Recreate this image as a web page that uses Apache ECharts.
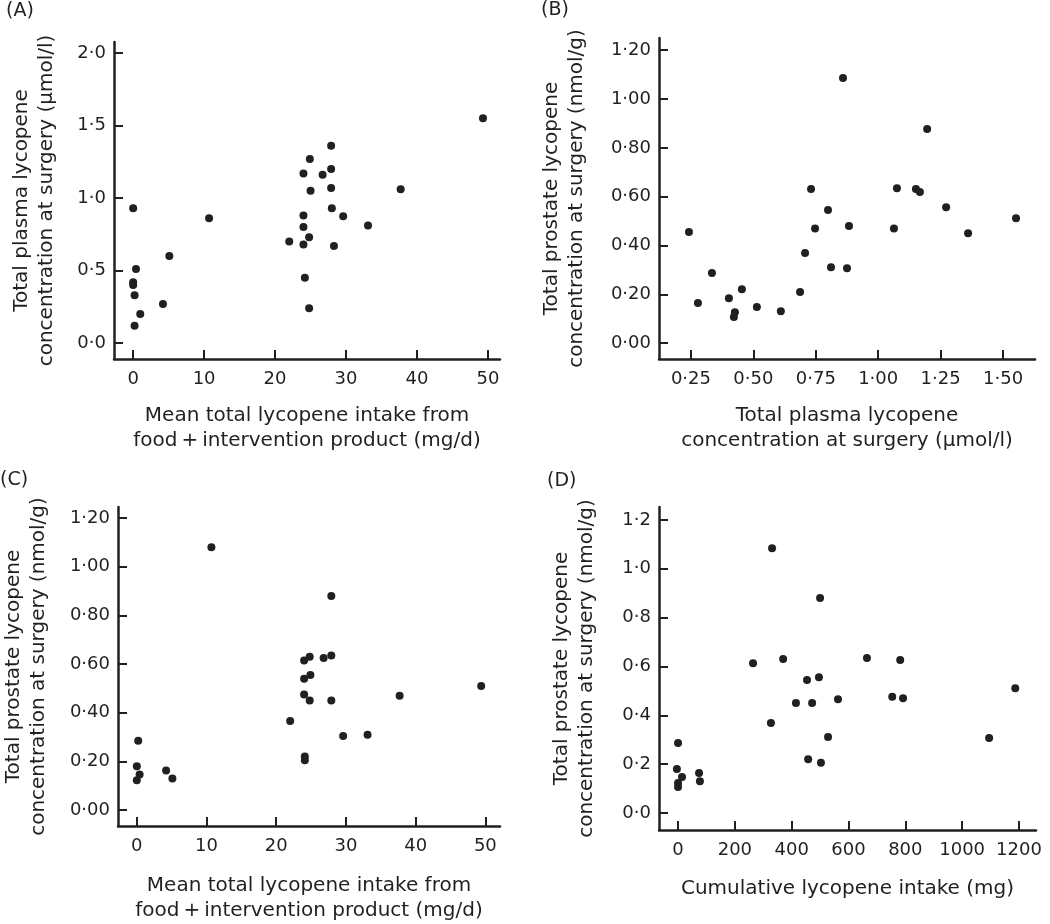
<!DOCTYPE html>
<html>
<head>
<meta charset="utf-8">
<title>Lycopene scatter panels</title>
<script src="https://cdn.jsdelivr.net/npm/echarts@6/dist/echarts.min.js"></script>
<style>
  html, body { margin: 0; padding: 0; background: #fff; }
  #chart { width: 1050px; height: 924px; }
</style>
</head>
<body>
<div id="chart"></div>
<script>
// (A) intake (mg/d) vs plasma lycopene (umol/l)
var aX = [0, 10.7, 49.3, 27.9, 24.9, 24.0, 26.7, 27.9, 25.0, 27.9, 37.7, 28.0, 29.6, 24.0, 33.1,
          24.0, 22.0, 24.0, 24.8, 28.3, 5.1, 0.4, 0, 0, 0.2, 4.2, 1.0, 0.2, 24.2, 24.8];
var aY = [0.93, 0.86, 1.55, 1.36, 1.27, 1.17, 1.16, 1.20, 1.05, 1.07, 1.06, 0.93, 0.875, 0.88, 0.81,
          0.80, 0.70, 0.68, 0.73, 0.67, 0.60, 0.51, 0.42, 0.40, 0.33, 0.27, 0.20, 0.12, 0.45, 0.24];

// (B) plasma lycopene vs prostate lycopene (nmol/g)
var bX = [0.859, 1.196, 0.731, 1.075, 1.151, 1.167, 1.272, 0.799, 1.552, 0.747, 0.883, 1.063,
          1.36, 0.242, 0.707, 0.811, 0.875, 0.334, 0.278, 0.402, 0.454, 0.426, 0.422, 0.514, 0.61, 0.687];
var bY = [1.086, 0.877, 0.631, 0.635, 0.631, 0.619, 0.557, 0.545, 0.512, 0.47, 0.48, 0.47,
          0.45, 0.455, 0.369, 0.311, 0.307, 0.287, 0.164, 0.184, 0.221, 0.127, 0.107, 0.148, 0.131, 0.209];

// (C) intake (mg/d) vs prostate lycopene
var cX = [10.7, 27.9, 24.0, 24.8, 26.8, 27.9, 24.0, 24.9, 37.7, 49.4, 24.0, 24.8, 27.9, 22.0,
          29.6, 33.1, 24.1, 24.1, 0.2, 0, 0.4, 0, 4.2, 5.1];
var cY = [1.08, 0.88, 0.615, 0.63, 0.625, 0.635, 0.54, 0.555, 0.47, 0.51, 0.475, 0.45, 0.45, 0.366,
          0.305, 0.31, 0.22, 0.205, 0.285, 0.18, 0.147, 0.123, 0.163, 0.13];

// (D) cumulative intake (mg) vs prostate lycopene
var dX = [331, 500, 264, 370, 665, 782, 454, 496, 1187, 754, 792, 563, 415, 472, 327, 528,
          1095, 458, 503, 0, -4, 14, 0, 0, 74, 77];
var dY = [1.084, 0.88, 0.613, 0.63, 0.634, 0.626, 0.544, 0.556, 0.511, 0.476, 0.47, 0.466, 0.45,
          0.45, 0.368, 0.311, 0.307, 0.22, 0.205, 0.286, 0.18, 0.147, 0.123, 0.106, 0.163, 0.13];

// tick labels
var aXTicks = [0, 10, 20, 30, 40, 50];
var aYTicks = [0, 0.5, 1, 1.5, 2];
var bXTicks = [0.25, 0.5, 0.75, 1, 1.25, 1.5];
var bYTicks = [0, 0.2, 0.4, 0.6, 0.8, 1, 1.2];
var cXTicks = [0, 10, 20, 30, 40, 50];
var cYTicks = [0, 0.2, 0.4, 0.6, 0.8, 1, 1.2];
var dXTicks = [0, 200, 400, 600, 800, 1000, 1200];
var dYTicks = [0, 0.2, 0.4, 0.6, 0.8, 1, 1.2];

var ink = '#231f20';
var font = '"DejaVu Sans", "Liberation Sans", sans-serif';

function zip(xs, ys) {
    var out = [];
    for (var i = 0; i < xs.length; i++) out.push([xs[i], ys[i]]);
    return out;
}
function dot(n) {
    return function (v) { return v.toFixed(n).replace('.', '\u00b7'); };
}

function axis(idx, min, max, ticks, fmt, name, gap, labelMargin) {
    return {
        type: 'value', gridIndex: idx, min: min, max: max,
        name: name, nameLocation: 'middle', nameGap: gap,
        nameTextStyle: { color: ink, fontSize: 20, fontFamily: font, lineHeight: 25 },
        axisLine: { show: true, onZero: false, lineStyle: { color: ink, width: 2.5 } },
        axisTick: { show: true, inside: true, length: 9, customValues: ticks,
                    lineStyle: { color: ink, width: 2 } },
        axisLabel: { customValues: ticks, formatter: fmt, color: ink, fontSize: 18,
                     fontFamily: font, margin: labelMargin },
        splitLine: { show: false }
    };
}

var xAxes = [
    axis(0, -2.7, 51.7, aXTicks, dot(0), 'Mean total lycopene intake from\nfood\u2009+\u2009intervention product (mg/d)', 44, 11),
    axis(1, 0.122, 1.628, bXTicks, dot(2), 'Total plasma lycopene\nconcentration at surgery (\u03bcmol/l)', 44, 11),
    axis(2, -2.7, 52.1, cXTicks, dot(0), 'Mean total lycopene intake from\nfood\u2009+\u2009intervention product (mg/d)', 47, 11),
    axis(3, -67, 1260, dXTicks, dot(0), 'Cumulative lycopene intake (mg)', 46, 11)
];
var yAxes = [
    axis(0, -0.11, 2.076, aYTicks, dot(1), 'Total plasma lycopene\nconcentration at surgery (\u03bcmol/l)', 55, 8),
    axis(1, -0.065, 1.25, bYTicks, dot(2), 'Total prostate lycopene\nconcentration at surgery (nmol/g)', 70, 8),
    axis(2, -0.065, 1.245, cYTicks, dot(2), 'Total prostate lycopene\nconcentration at surgery (nmol/g)', 67, 8),
    axis(3, -0.07, 1.253, dYTicks, dot(1), 'Total prostate lycopene\nconcentration at surgery (nmol/g)', 60, 8)
];

function scatter(idx, xs, ys) {
    return {
        type: 'scatter', xAxisIndex: idx, yAxisIndex: idx,
        data: zip(xs, ys), symbolSize: 8,
        itemStyle: { color: ink, opacity: 1 },
        emphasis: { disabled: true }, silent: true
    };
}

function panel(text, left, top) {
    return { text: text, left: left, top: top, padding: 0,
             textStyle: { color: ink, fontSize: 19, fontWeight: 'normal', fontFamily: font } };
}

var chart = echarts.init(document.getElementById('chart'));
chart.setOption({
    animation: false,
    backgroundColor: '#fff',
    title: [panel('(A)', 6, 2), panel('(B)', 541, 1), panel('(C)', 0, 471), panel('(D)', 547, 472)],
    grid: [
        { left: 114, top: 42, width: 386, height: 317 },
        { left: 659, top: 38, width: 376, height: 321 },
        { left: 114, top: 507, width: 386, height: 322 },
        { left: 659, top: 507, width: 377, height: 323 }
    ],
    xAxis: xAxes,
    yAxis: yAxes,
    series: [
        scatter(0, aX, aY),
        scatter(1, bX, bY),
        scatter(2, cX, cY),
        scatter(3, dX, dY)
    ]
});
</script>
</body>
</html>
